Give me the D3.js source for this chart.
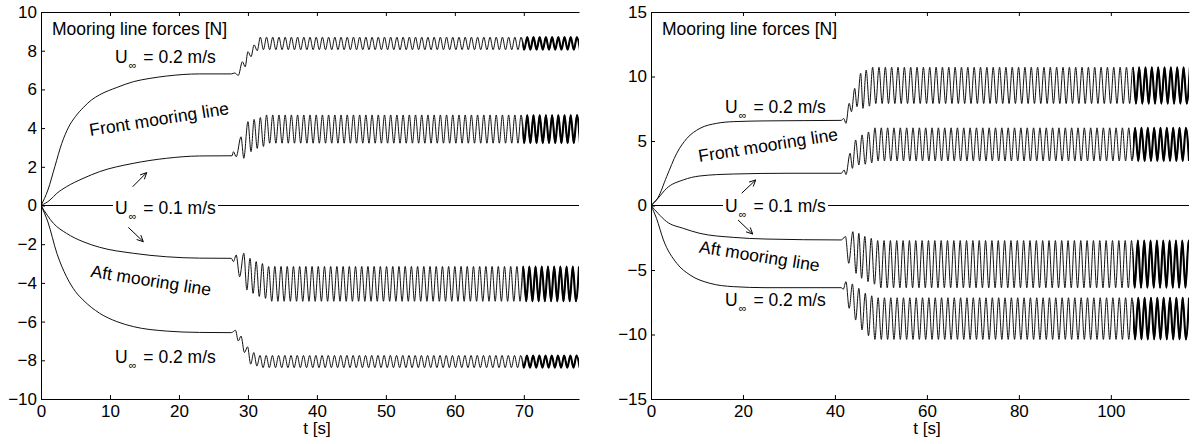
<!DOCTYPE html>
<html><head><meta charset="utf-8">
<script src="https://cdn.jsdelivr.net/npm/d3@7"></script>
<style>
body{margin:0;background:#fff}
text{font-family:"Liberation Sans",Arial,Helvetica,sans-serif;fill:#000}
</style>
</head><body>
<svg id="chart" width="1192" height="444"></svg>
<script>
// ---------------- DATA ----------------
// Left panel (model scale)
const leftXTicks = [0,10,20,30,40,50,60,70];
const leftYTicks = [-10,-8,-6,-4,-2,0,2,4,6,8,10];
const leftXDomain = [0,78];
const leftYDomain = [-10,10];
const leftHalfPeriod = 0.45;      // s, half of oscillation period
const leftThickFrom = 69.8;       // s, where the trace becomes bold

const leftFront02Ramp = [[0,0],[1,0.8],[2,2.0],[3,3.2],[4,4.05],[5,4.6],[6.1,5.05],[7.3,5.45],[8.5,5.72],[11,6.1],[13.4,6.4],[15.8,6.57],[18.2,6.69],[23,6.8],[27.6,6.8]];
const leftFront02Trans = [[28.1,6.85],[28.6,6.72],[29.2,7.43],[29.6,7.17],[30.0,7.95],[30.45,7.69],[30.9,8.3],[31.35,8.0]];
const leftFront02Steady = [8.7,8.05];  // alternating extremes
const leftFront02SteadyStart = 31.8;

const leftFront01Ramp = [[0,0],[1.3,0.28],[2.3,0.63],[3.7,0.97],[6.1,1.4],[8.5,1.75],[13.4,2.18],[18.2,2.44],[23,2.56],[27.7,2.57]];
const leftFront01Trans = [[27.9,2.78],[28.3,2.52],[29.0,3.55],[29.4,2.44],[30.0,4.33],[30.45,2.78],[30.9,4.45],[31.35,2.95],[31.8,4.55],[32.25,3.05]];
const leftFront01Steady = [4.68,3.22];
const leftFront01SteadyStart = 32.7;

const leftAft01Ramp = [[0,0],[1.8,-0.92],[3.7,-1.44],[6.1,-1.87],[8.5,-2.16],[13.4,-2.47],[18.2,-2.65],[23,-2.72],[27.6,-2.73]];
const leftAft01Trans = [[27.9,-2.9],[28.3,-2.56],[28.8,-3.68],[29.4,-2.47],[29.85,-4.37],[30.3,-2.73],[30.75,-4.54],[31.2,-2.9],[31.65,-4.7],[32.1,-3.0],[32.55,-4.8]];
const leftAft01Steady = [-3.15,-4.95];
const leftAft01SteadyStart = 33.0;

const leftAft02Ramp = [[0,0],[1,-0.85],[2.3,-2.47],[3.7,-3.68],[5,-4.45],[6.1,-4.88],[8.5,-5.57],[11,-6.0],[13.4,-6.26],[18.2,-6.49],[23,-6.56],[27.6,-6.57]];
const leftAft02Trans = [[28.2,-6.45],[28.6,-7.0],[29.0,-6.75],[29.5,-7.6],[29.95,-7.3],[30.4,-8.2],[30.85,-7.6],[31.3,-8.3]];
const leftAft02Steady = [-7.75,-8.38];
const leftAft02SteadyStart = 31.75;

// Right panel (full scale)
const rightXTicks = [0,20,40,60,80,100];
const rightYTicks = [-15,-10,-5,0,5,10,15];
const rightXDomain = [0,117];
const rightYDomain = [-15,15];
const rightHalfPeriod = 0.69;
const rightThickFrom = 104.8;

const rightFront02Ramp = [[0,0],[1.5,0.6],[3.4,2.23],[5.6,4.05],[7.8,5.2],[10.65,5.98],[14.3,6.37],[17.9,6.5],[25.2,6.56],[41.4,6.6]];
const rightFront02Trans = [[41.9,6.75],[42.4,6.37],[43.1,7.92],[43.6,7.27],[44.3,9.08],[44.8,7.66],[45.6,10.25],[46.1,7.53],[46.8,10.5],[47.5,7.7]];
const rightFront02Steady = [10.72,7.9];
const rightFront02SteadyStart = 48.2;

const rightFront01Ramp = [[0,0],[1.5,0.55],[3.4,1.33],[7,1.98],[10.65,2.29],[17.9,2.44],[30,2.5],[41.4,2.5]];
const rightFront01Trans = [[42.0,2.75],[42.4,2.4],[43.3,4.05],[43.8,2.88],[44.5,5.08],[45.2,3.14],[45.9,5.47],[46.6,3.2],[47.3,5.7],[48.0,3.3]];
const rightFront01Steady = [6.02,3.45];
const rightFront01SteadyStart = 48.7;

const rightAft01Ramp = [[0,0],[1.5,-0.6],[3.4,-1.25],[7,-1.77],[10.65,-2.16],[17.9,-2.47],[25,-2.6],[41.4,-2.67]];
const rightAft01Trans = [[42.3,-2.4],[43.0,-4.48],[43.9,-2.03],[44.6,-5.26],[45.2,-2.16],[45.8,-5.64],[46.5,-2.4],[47.2,-5.9],[47.9,-2.55],[48.6,-6.1]];
const rightAft01Steady = [-2.72,-6.38];
const rightAft01SteadyStart = 49.3;

const rightAft02Ramp = [[0,0],[1.2,-1],[2.7,-2.67],[5.6,-4.48],[8.5,-5.39],[12.8,-6.03],[17.9,-6.29],[25,-6.37],[41.4,-6.37]];
const rightAft02Trans = [[41.8,-6.5],[42.4,-5.9],[43.1,-7.97],[43.8,-6.08],[44.5,-8.88],[45.2,-6.42],[45.9,-9.65],[46.6,-6.8],[47.3,-10.1],[48.0,-7.0]];
const rightAft02Steady = [-10.38,-7.15];
const rightAft02SteadyStart = 48.7;

// Annotation texts
const titleText = "Mooring line forces [N]";
const frontText = "Front mooring line";
const aftText = "Aft mooring line";
const speed02 = "0.2 m/s";
const speed01 = "0.1 m/s";
const xLabel = "t [s]";

// ---------------- DRAWING ----------------
const svg = d3.select("#chart");
const fmt = d => (d < 0 ? "\u2212" + Math.abs(d) : String(d));
const FS = 17.5;

function buildSeries(ramp, trans, steadyStart, steadyVals, half, tEnd) {
  const pts = ramp.concat(trans);
  let k = 0;
  for (let t = steadyStart; t <= tEnd + half; t += half, k++) pts.push([t, steadyVals[k % 2]]);
  return pts;
}

function drawPanel(cfg) {
  const x = d3.scaleLinear().domain(cfg.xDomain).range(cfg.xRange);
  const y = d3.scaleLinear().domain(cfg.yDomain).range(cfg.yRange);
  const g = svg.append("g");
  const id = cfg.id;

  svg.append("clipPath").attr("id", id + "clip").append("rect")
    .attr("x", cfg.xRange[0]).attr("y", cfg.yRange[1])
    .attr("width", cfg.xRange[1] - cfg.xRange[0]).attr("height", cfg.yRange[0] - cfg.yRange[1]);
  svg.append("clipPath").attr("id", id + "thick").append("rect")
    .attr("x", x(cfg.thickFrom)).attr("y", cfg.yRange[1])
    .attr("width", cfg.xRange[1] - x(cfg.thickFrom)).attr("height", cfg.yRange[0] - cfg.yRange[1]);

  const line = d3.line().x(d => x(d[0])).y(d => y(d[1])).curve(d3.curveMonotoneX);
  const plot = g.append("g").attr("clip-path", `url(#${id}clip)`);

  // zero line
  plot.append("path").attr("d", line([[cfg.xDomain[0], 0], [cfg.xDomain[1], 0]]))
    .attr("fill", "none").attr("stroke", "#000").attr("stroke-width", 1);

  cfg.series.forEach(s => {
    const pts = buildSeries(s.ramp, s.trans, s.start, s.steady, cfg.half, cfg.xDomain[1]);
    plot.append("path").attr("d", line(pts)).attr("fill", "none")
      .attr("stroke", "#111").attr("stroke-width", 1);
    plot.append("g").attr("clip-path", `url(#${id}thick)`)
      .append("path").attr("d", line(pts)).attr("fill", "none")
      .attr("stroke", "#000").attr("stroke-width", 2.1);
  });

  // axes
  const xAxis = d3.axisBottom(x).tickValues(cfg.xTicks).tickSizeInner(-4).tickSizeOuter(0).tickPadding(6).tickFormat(fmt);
  const xTop = d3.axisTop(x).tickValues(cfg.xTicks).tickSizeInner(-4).tickSizeOuter(0).tickFormat("");
  const yAxis = d3.axisLeft(y).tickValues(cfg.yTicks).tickSizeInner(-4).tickSizeOuter(0).tickPadding(4).tickFormat(fmt);

  const ax = g.append("g").attr("transform", `translate(0,${cfg.yRange[0]})`).call(xAxis);
  const at = g.append("g").attr("transform", `translate(0,${cfg.yRange[1]})`).call(xTop);
  const ay = g.append("g").attr("transform", `translate(${cfg.xRange[0]},0)`).call(yAxis);
  [ax, at, ay].forEach(a => {
    a.selectAll("path,line").attr("stroke", "#000").attr("stroke-width", 1);
    a.selectAll("text").attr("font-size", 17).attr("font-family", '"Liberation Sans",Arial,sans-serif').attr("fill", "#000");
  });

  // x label
  g.append("text").attr("x", (cfg.xRange[0] + cfg.xRange[1]) / 2 + 7).attr("y", 434)
    .attr("text-anchor", "middle").attr("font-size", 17).text(xLabel);

  // title inside
  g.append("text").attr("x", cfg.xRange[0] + 11).attr("y", 35).attr("font-size", FS).text(titleText);

  // speed labels
  function speedLabel(t, v, val, bg) {
    const tx = g.append("text").attr("x", x(t)).attr("y", y(v)).attr("font-size", FS);
    tx.append("tspan").text("U");
    tx.append("tspan").attr("font-size", 11).attr("dy", 6).attr("dx", 1).text("\u221E");
    tx.append("tspan").attr("dy", -6).attr("dx", 2).text(" = " + val);
    if (bg) {
      const b = tx.node().getBBox();
      g.insert("rect", () => tx.node()).attr("x", b.x - 2).attr("y", y(0) - 3)
        .attr("width", b.width + 4).attr("height", 6).attr("fill", "#fff");
    }
  }
  cfg.labels.forEach(l => speedLabel(l.t, l.v, l.val, l.bg));

  // rotated labels
  cfg.rot.forEach(r => {
    g.append("text").attr("transform", `translate(${x(r.t)},${y(r.v)}) rotate(${r.a})`)
      .attr("text-anchor", "middle").attr("font-size", FS).text(r.text);
  });

  // arrows
  cfg.arrows.forEach(a => {
    const x1 = x(a[0]), y1 = y(a[1]), x2 = x(a[2]), y2 = y(a[3]);
    const ang = Math.atan2(y2 - y1, x2 - x1);
    const L = 7, w = 0.45;
    g.append("line").attr("x1", x1).attr("y1", y1).attr("x2", x2).attr("y2", y2)
      .attr("stroke", "#000").attr("stroke-width", 1);
    const p1 = [x2 - L * Math.cos(ang - w), y2 - L * Math.sin(ang - w)];
    const p2 = [x2 - L * Math.cos(ang + w), y2 - L * Math.sin(ang + w)];
    g.append("path").attr("d", `M${p1}L${x2},${y2}L${p2}`).attr("fill", "none")
      .attr("stroke", "#000").attr("stroke-width", 1);
  });
}

drawPanel({
  id: "L", xDomain: leftXDomain, yDomain: leftYDomain, xRange: [41, 579], yRange: [399, 12],
  xTicks: leftXTicks, yTicks: leftYTicks, half: leftHalfPeriod, thickFrom: leftThickFrom,
  series: [
    {ramp: leftFront02Ramp, trans: leftFront02Trans, start: leftFront02SteadyStart, steady: leftFront02Steady},
    {ramp: leftFront01Ramp, trans: leftFront01Trans, start: leftFront01SteadyStart, steady: leftFront01Steady},
    {ramp: leftAft01Ramp, trans: leftAft01Trans, start: leftAft01SteadyStart, steady: leftAft01Steady},
    {ramp: leftAft02Ramp, trans: leftAft02Trans, start: leftAft02SteadyStart, steady: leftAft02Steady}
  ],
  labels: [
    {t: 10.73, v: 7.36, val: speed02},
    {t: 10.73, v: -0.44, val: speed01, bg: true},
    {t: 10.73, v: -8.14, val: speed02}
  ],
  rot: [
    {t: 17.25, v: 4.16, a: -9, text: frontText},
    {t: 15.8, v: -4.18, a: 9, text: aftText}
  ],
  arrows: [[13.29, 0.97, 15.32, 1.70], [12.66, -1.13, 14.83, -1.87]]
});

drawPanel({
  id: "R", xDomain: rightXDomain, yDomain: rightYDomain, xRange: [651, 1189], yRange: [399, 12],
  xTicks: rightXTicks, yTicks: rightYTicks, half: rightHalfPeriod, thickFrom: rightThickFrom,
  series: [
    {ramp: rightFront02Ramp, trans: rightFront02Trans, start: rightFront02SteadyStart, steady: rightFront02Steady},
    {ramp: rightFront01Ramp, trans: rightFront01Trans, start: rightFront01SteadyStart, steady: rightFront01Steady},
    {ramp: rightAft01Ramp, trans: rightAft01Trans, start: rightAft01SteadyStart, steady: rightAft01Steady},
    {ramp: rightAft02Ramp, trans: rightAft02Trans, start: rightAft02SteadyStart, steady: rightAft02Steady}
  ],
  labels: [
    {t: 16.1, v: 7.17, val: speed02},
    {t: 16.1, v: -0.48, val: speed01, bg: true},
    {t: 16.1, v: -7.79, val: speed02}
  ],
  rot: [
    {t: 25.66, v: 4.22, a: -9, text: frontText},
    {t: 23.4, v: -4.38, a: 9, text: aftText}
  ],
  arrows: [[19.72, 0.95, 22.77, 1.98], [18.92, -1.12, 22.12, -2.21]]
});
</script>
</body></html>
